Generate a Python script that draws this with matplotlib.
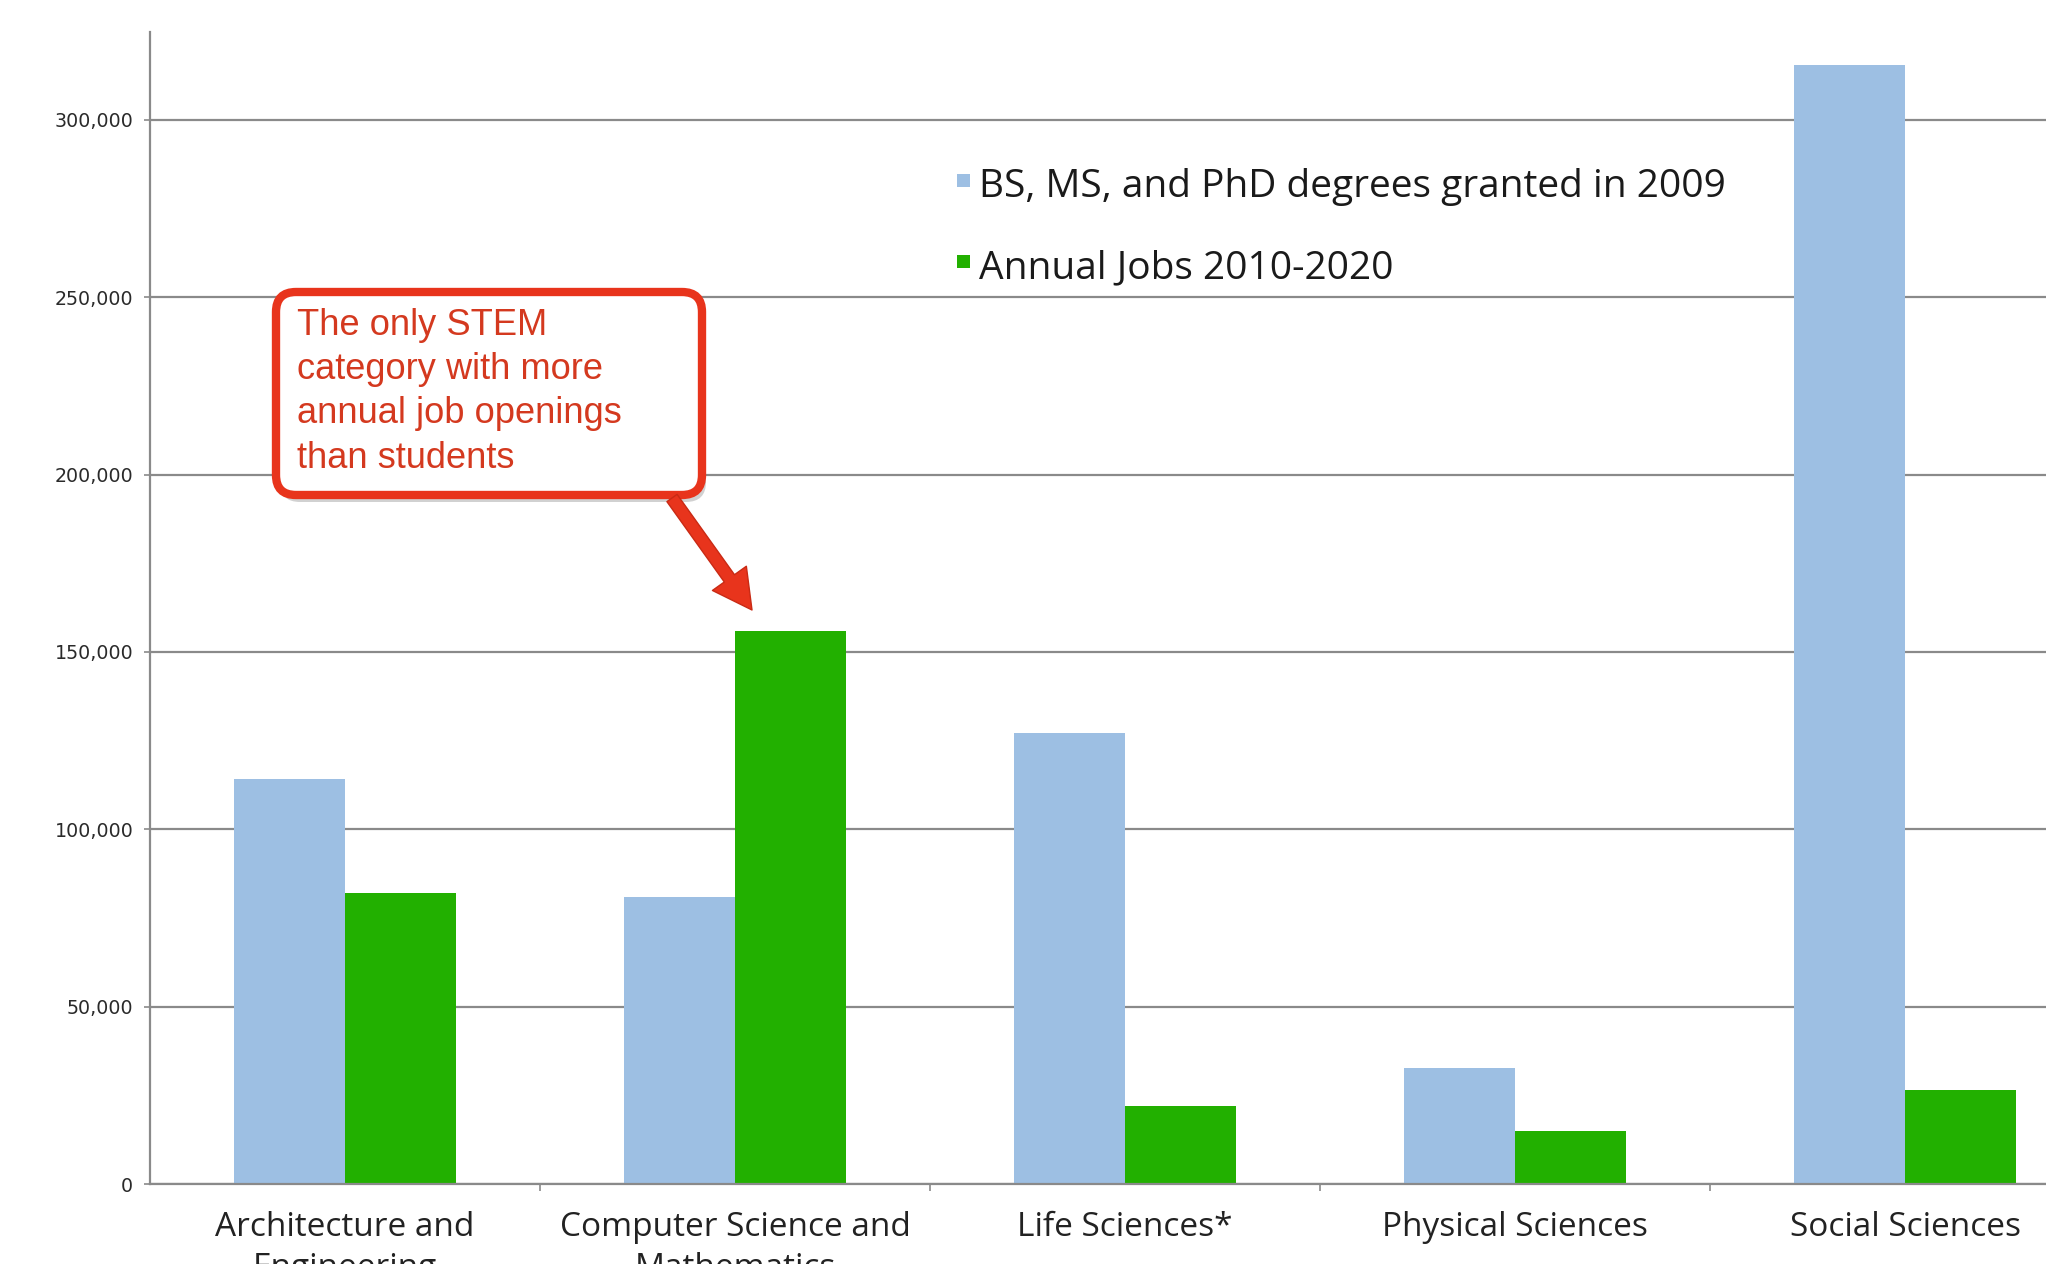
import numpy as np
import matplotlib
matplotlib.use("Agg")
import matplotlib.pyplot as plt
from matplotlib.patches import FancyBboxPatch, FancyArrowPatch, Rectangle
from matplotlib.transforms import IdentityTransform
from matplotlib.ticker import FuncFormatter, FixedLocator

categories = ["Architecture and\nEngineering", "Computer Science and\nMathematics",
              "Life Sciences*", "Physical Sciences", "Social Sciences"]
degrees_2009 = [114200, 80900, 127100, 32600, 315500]
annual_jobs = [82000, 155800, 22000, 15000, 26400]
series_names = ["BS, MS, and PhD degrees granted in 2009", "Annual Jobs 2010-2020"]
y_ticks = [0, 50000, 100000, 150000, 200000, 250000, 300000]
note = "The only STEM\ncategory with more\nannual job openings\nthan students"

BLUE = "#9dbfe3"
GREEN = "#22b000"
RED = "#e8341c"
GRID = "#8a8a8a"
LABEL_FONT = ["Open Sans", "DejaVu Sans"]

W, H = 2046, 1264
fig = plt.figure(figsize=(W / 100, H / 100), dpi=100)
fig.patch.set_facecolor("white")
ax = fig.add_axes([150 / W, 80 / H, 1950 / W, 1152 / H])

x = np.arange(len(categories)) + 0.5
bw = 0.285
ax.bar(x - bw / 2, degrees_2009, bw, color=BLUE, zorder=2)
ax.bar(x + bw / 2, annual_jobs, bw, color=GREEN, zorder=2)

ax.set_xlim(0, len(categories))
ax.set_ylim(0, 324800)
ax.set_yticks(y_ticks)
ax.yaxis.set_major_formatter(FuncFormatter(lambda v, p: f"{int(v):,}"))
ax.yaxis.grid(True, color=GRID, lw=1.6)
ax.set_axisbelow(True)
ax.tick_params(axis="y", direction="out", length=4, width=1.2, color=GRID,
               labelsize=13.7, labelcolor="#2a2a2a", pad=8)
for lab in ax.get_yticklabels():
    lab.set_family("DejaVu Sans")

ax.xaxis.set_major_locator(FixedLocator(np.arange(1, len(categories) + 1)))
ax.xaxis.set_major_formatter(FuncFormatter(lambda v, p: ""))
ax.xaxis.set_minor_locator(FixedLocator(x))
ax.set_xticklabels(categories, minor=True, family=LABEL_FONT,
                   fontsize=24, color="#222222", linespacing=1.33)
ax.tick_params(axis="x", which="major", direction="out", length=5, width=1.2, color=GRID)
ax.tick_params(axis="x", which="minor", length=0, pad=19.5)

for s in ["top", "right"]:
    ax.spines[s].set_visible(False)
for s in ["left", "bottom"]:
    ax.spines[s].set_color(GRID)
    ax.spines[s].set_linewidth(1.6)

ident = IdentityTransform()
def P(px, py):
    return (px, H - py)

# legend (manual)
for i, (name, col) in enumerate(zip(series_names, [BLUE, GREEN])):
    cy = 187 + i * 81
    fig.patches.append(Rectangle(P(957, cy), 13, 13, transform=ident,
                                 facecolor=col, edgecolor="none", figure=fig))
    fig.text(*P(979, cy), name, transform=ident, fontsize=28,
             family=LABEL_FONT, color="#1a1a1a", va="center", ha="left")

# annotation box with shadow
bx0, by0, bx1, by1 = 276, 292, 702, 495
shadow = FancyBboxPatch(P(bx0 + 4, by1 + 7), bx1 - bx0, by1 - by0,
                        boxstyle="round,pad=0,rounding_size=20", transform=ident,
                        facecolor="#000000", edgecolor="none", alpha=0.18, figure=fig)
fig.patches.append(shadow)
box = FancyBboxPatch(P(bx0, by1), bx1 - bx0, by1 - by0,
                     boxstyle="round,pad=0,rounding_size=20", transform=ident,
                     facecolor="white", edgecolor=RED, lw=6, figure=fig)
fig.patches.append(box)
fig.text(*P(297, 308), note, transform=ident, fontsize=26.1,
         family=["Liberation Sans", "DejaVu Sans"], color="#d4391f",
         va="top", ha="left", linespacing=1.34)

arrow = FancyArrowPatch(P(672, 498), P(752, 610), transform=ident,
                        arrowstyle="simple,head_width=30,head_length=28,tail_width=9",
                        mutation_scale=1, facecolor=RED, edgecolor="#c92a14", lw=1,
                        shrinkA=0, shrinkB=0, figure=fig)
fig.patches.append(arrow)

fig.savefig("out.png", dpi=100, facecolor="white")
